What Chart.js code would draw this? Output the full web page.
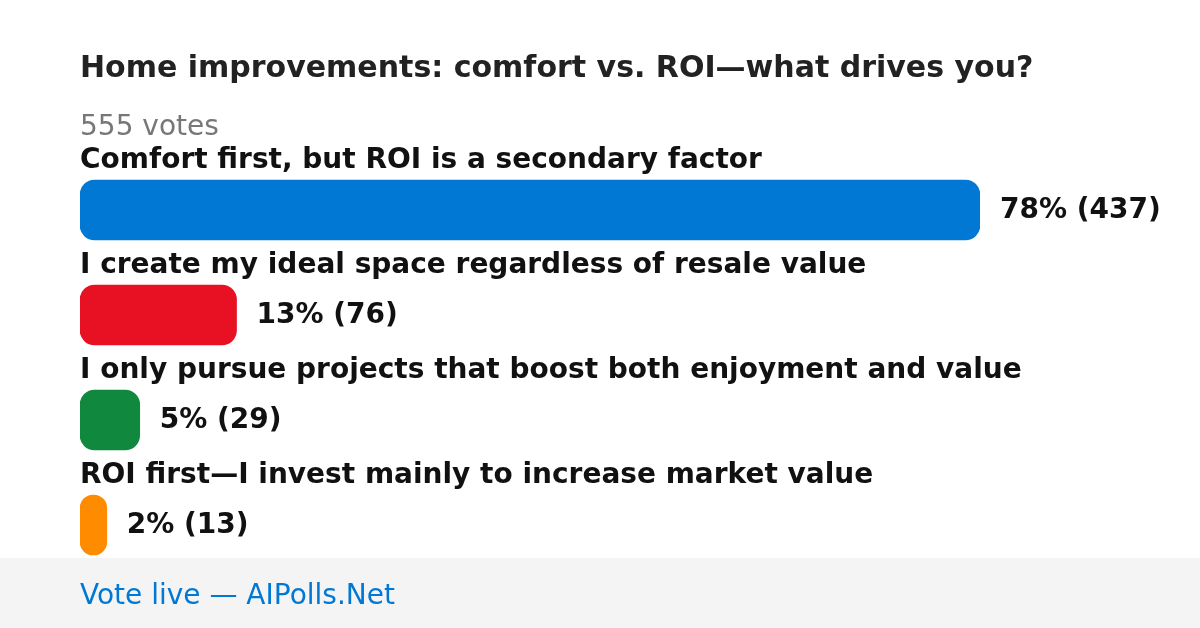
<!DOCTYPE html>
<html>
<head>
<meta charset="utf-8">
<script src="https://cdn.jsdelivr.net/npm/chart.js@4.4.1/dist/chart.umd.min.js"></script>
<style>
  body { margin: 0; background: #fff; }
  canvas { display: block; }
</style>
</head>
<body>
<canvas id="pollChart" width="1200" height="628"></canvas>
<script>
'use strict';

// DATA
let chartTitle = 'Home improvements: comfort vs. ROI\u2014what drives you?';
let totalLabel = '555 votes';
let footerText = 'Vote live \u2014 AIPolls.Net';
let answers = [
  'Comfort first, but ROI is a secondary factor',
  'I create my ideal space regardless of resale value',
  'I only pursue projects that boost both enjoyment and value',
  'ROI first\u2014I invest mainly to increase market value'
];
let votes = [437, 76, 29, 13];
let percents = [78, 13, 5, 2];
let barColors = ['#0078d4', '#e81123', '#10893e', '#ff8c00'];

const FONT = '"DejaVu Sans", sans-serif';

// draws title, labels, values and footer around the bars
let pollDecor = {
  id: 'pollDecor',
  beforeDraw(chart) {
    let ctx = chart.ctx;
    ctx.save();
    ctx.fillStyle = '#ffffff';
    ctx.fillRect(0, 0, chart.width, chart.height);
    ctx.fillStyle = '#f4f4f4';
    ctx.fillRect(0, 558, chart.width, chart.height - 558);
    ctx.restore();
  },
  afterDraw(chart) {
    let ctx = chart.ctx;
    let xScale = chart.scales.x;
    let yScale = chart.scales.y;
    ctx.save();
    ctx.textBaseline = 'middle';
    ctx.textAlign = 'left';

    ctx.fillStyle = '#222222';
    ctx.font = 'bold 30px ' + FONT;
    ctx.fillText(chartTitle, 80, 69);

    ctx.fillStyle = '#777777';
    ctx.font = '28px ' + FONT;
    ctx.fillText(totalLabel, 80, 128);

    for (let i = 0; i < answers.length; i++) {
      let yc = yScale.getPixelForValue(i);
      ctx.fillStyle = '#111111';
      ctx.font = 'bold 28px ' + FONT;
      ctx.fillText(answers[i], 80, yc - 49);
      let xEnd = xScale.getPixelForValue(votes[i]);
      ctx.fillText(percents[i] + '% (' + votes[i] + ')', xEnd + 20, yc + 1);
    }

    ctx.fillStyle = '#0078d4';
    ctx.font = '28px ' + FONT;
    ctx.fillText(footerText, 80, 597);
    ctx.restore();
  }
};

let canvasChart = document.getElementById('pollChart');
const pollChart = new Chart(canvasChart, {
  type: 'bar',
  data: {
    labels: answers,
    datasets: [{
      data: votes,
      backgroundColor: barColors,
      borderRadius: 15,
      borderSkipped: false,
      barThickness: 60
    }]
  },
  options: {
    indexAxis: 'y',
    responsive: false,
    animation: false,
    layout: {
      padding: { left: 80, right: 220, top: 157.5, bottom: 50.5 }
    },
    scales: {
      x: { display: false, min: 0, max: 437 },
      y: { display: false }
    },
    plugins: {
      legend: { display: false },
      tooltip: { enabled: false }
    }
  },
  plugins: [pollDecor]
});
</script>
</body>
</html>
